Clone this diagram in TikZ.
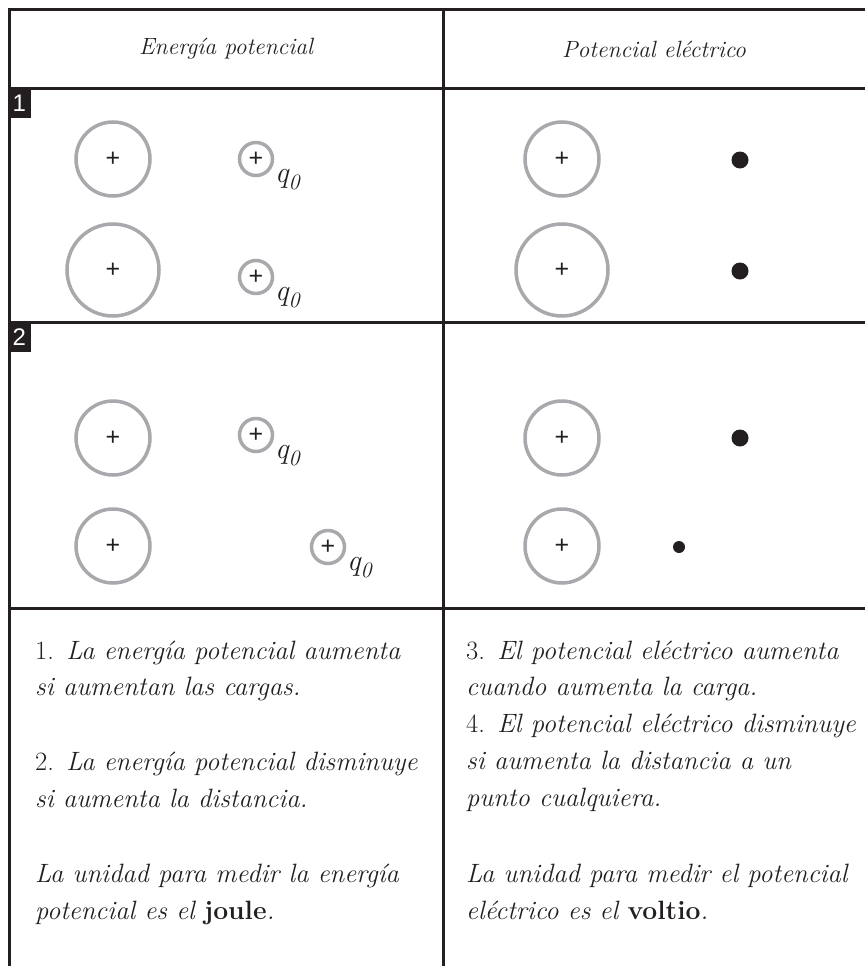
\documentclass[tikz,border=0pt]{standalone}
\usepackage{fontspec}
\newfontfamily\tagfont{Liberation Sans}
\usetikzlibrary{calc}
\definecolor{lineC}{HTML}{231F20}
\definecolor{circC}{HTML}{A7A9AC}
\tikzset{
  gridline/.style={draw=lineC, line width=3pt},
  charge/.style={circle, draw=circC, line width=3.5pt, inner sep=0pt, font=\fontsize{25}{25}\tagfont, text=lineC},
  bigq/.style={charge, minimum size=74pt},
  hugeq/.style={charge, minimum size=92pt},
  testq/.style={charge, minimum size=33pt},
  dotpt/.style={circle, fill=lineC, inner sep=0pt, minimum size=17pt},
  smalldot/.style={circle, fill=lineC, inner sep=0pt, minimum size=12pt},
  qlabel/.style={anchor=base west, inner sep=0pt, font=\fontsize{30}{30}\selectfont\itshape, text=lineC},
  rowtag/.style={fill=lineC, text=white, font=\fontsize{24}{24}\tagfont, minimum width=23pt, minimum height=30pt, inner sep=0pt, anchor=north west},
  header/.style={font=\fontsize{23.5}{23.5}\selectfont\itshape, text=lineC, inner sep=0pt},
  body/.style={anchor=base west, inner sep=0pt, font=\fontsize{26.5}{26.5}\selectfont\itshape, text=lineC},
}
\newcommand{\qzero}{q\raisebox{-7pt}{\fontsize{22}{22}\selectfont 0}}
\begin{document}
\begin{tikzpicture}[x=1pt,y=-1pt]
\useasboundingbox (0,0) rectangle (865,966);
% grid
\draw[gridline] (865,10) -- (9,10) -- (9,966);
\draw[gridline] (443,10) -- (443,966);
\draw[gridline] (9,88) -- (865,88);
\draw[gridline] (9,322) -- (865,322);
\draw[gridline] (9,608) -- (865,608);
% headers
\node[header] (h1) at (226,49) {Energía potencial};
\node[header] (h2) at (654,49) {Potencial eléctrico};
% row tags
\node[rowtag] (tag1) at (7.5,88) {1};
\node[rowtag] (tag2) at (7.5,322) {2};
% row 1, left
\node[bigq]  (a1) at (113,159) {+};
\node[testq] (t1) at (256,159) {+};
\node[qlabel] (l1) at ($(t1)+(19,23)$) {\qzero};
\node[hugeq] (a2) at (113,270) {+};
\node[testq] (t2) at (256,277) {+};
\node[qlabel] (l2) at ($(t2)+(19,23)$) {\qzero};
% row 1, right
\node[bigq]  (b1) at (562,159) {+};
\node[dotpt] (d1) at (740,160) {};
\node[hugeq] (b2) at (562,270) {+};
\node[dotpt] (d2) at (740,271) {};
% row 2, left
\node[bigq]  (a3) at (113,438) {+};
\node[testq] (t3) at (256,435) {+};
\node[qlabel] (l3) at ($(t3)+(19,23)$) {\qzero};
\node[bigq]  (a4) at (113,546) {+};
\node[testq] (t4) at (328,547) {+};
\node[qlabel] (l4) at ($(t4)+(19,23)$) {\qzero};
% row 2, right
\node[bigq]  (b3) at (562,438) {+};
\node[dotpt] (d3) at (740,438) {};
\node[bigq]  (b4) at (562,546) {+};
\node[smalldot] (d4) at (679,547) {};
% text, left
\node[body] (p1a) at (35,659) {{\upshape 1.} La energía potencial aumenta};
\node[body] (p1b) at (35,695) {si aumentan las cargas.};
\node[body] (p2a) at (35,770) {{\upshape 2.} La energía potencial disminuye};
\node[body] (p2b) at (35,807) {si aumenta la distancia.};
\node[body] (p3a) at (35,882) {La unidad para medir la energía};
\node[body] (p3b) at (35,919) {potencial es el {\bfseries\upshape joule}.};
% text, right
\node[body] (r1a) at (466,659) {{\upshape 3.} El potencial eléctrico aumenta};
\node[body] (r1b) at (466,695) {cuando aumenta la carga.};
\node[body] (r2a) at (466,732) {{\upshape 4.} El potencial eléctrico disminuye};
\node[body] (r2b) at (466,769) {si aumenta la distancia a un};
\node[body] (r2c) at (466,806) {punto cualquiera.};
\node[body] (r3a) at (466,882) {La unidad para medir el potencial};
\node[body] (r3b) at (466,919) {eléctrico es el {\bfseries\upshape voltio}.};
\end{tikzpicture}
\end{document}
